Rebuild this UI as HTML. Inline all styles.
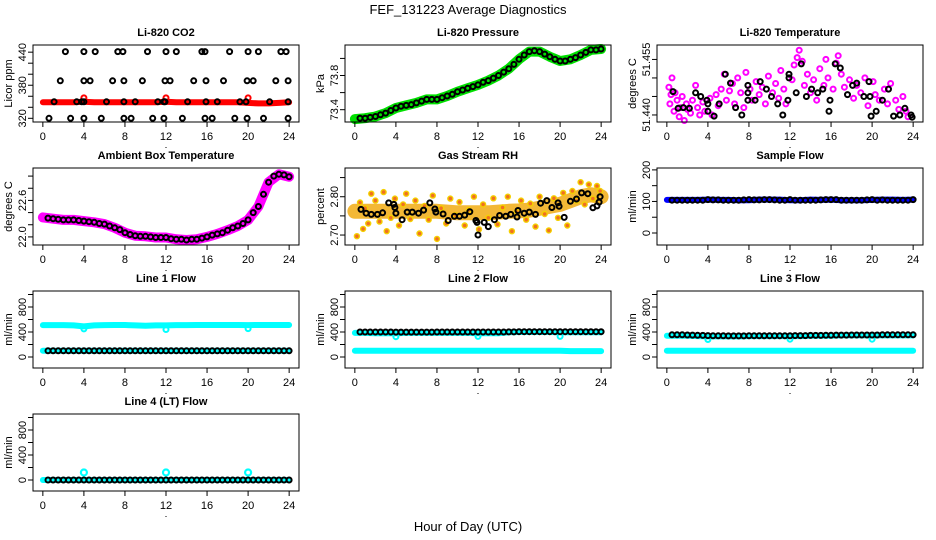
<!DOCTYPE html>
<html><head><meta charset="utf-8"><style>
html,body{margin:0;padding:0;background:#fff;}
svg{display:block;font-family:"Liberation Sans",sans-serif;}
</style></head><body>
<svg id="chart" width="936" height="540" viewBox="0 0 936 540" xmlns="http://www.w3.org/2000/svg">
<text x="468" y="14" font-size="13" text-anchor="middle">FEF_131223  Average Diagnostics</text>
<text x="468" y="531" font-size="13" text-anchor="middle">Hour of Day (UTC)</text>
</svg>
<script>
// ---- data ----
const xTicks = [0,4,8,12,16,20,24];
const blackH = [0.5,1,1.5,2,2.5,3,3.5,4,4.5,5,5.5,6,6.5,7,7.5,8,8.5,9,9.5,10,10.5,11,11.5,12,12.5,13,13.5,14,14.5,15,15.5,16,16.5,17,17.5,18,18.5,19,19.5,20,20.5,21,21.5,22,22.5,23,23.5,24];
const hourly = [0,1,2,3,4,5,6,7,8,9,10,11,12,13,14,15,16,17,18,19,20,21,22,23,24];
const dipH = [4,12,20];

// CO2
const co2RedBand = [349,349,349,349,350,349,349,349,349,349,349,349,350,349,349,349,349,349,349,349,348,347,347,348,349];
const co2RedDipV = [357,357,357];
const co2B440H = [2.2,4,5.1,7.3,7.8,10.2,12,13,15.5,15.8,18.2,20,21,23.2,23.7];
const co2B380H = [1.7,4,4.6,6.8,7.9,9.7,11.9,12.4,14.7,15.9,17.6,19.9,20.5,22.7,23.9];
const co2B350H = [1.1,3.3,3.8,4,6.2,7.9,9,11.2,11.8,11.9,14.1,15.9,17,19.2,19.8,22.1,23.9];
const co2B320H = [0.6,2.7,4,5.7,7.9,8.6,10.7,11.8,13.6,15.8,16.5,18.7,19.9,21.5,23.9];
const co2Levels = [441,388,350,320];

// Pressure
const presBand = [73.29,73.30,73.32,73.36,73.42,73.45,73.48,73.52,73.52,73.56,73.61,73.65,73.69,73.74,73.80,73.88,73.99,74.08,74.08,74.02,73.97,73.99,74.04,74.10,74.11];
const presBlack = [73.30,73.30,73.31,73.32,73.34,73.36,73.39,73.42,73.44,73.45,73.46,73.48,73.50,73.52,73.52,73.52,73.54,73.56,73.58,73.61,73.63,73.65,73.67,73.69,73.72,73.74,73.77,73.80,73.84,73.88,73.93,73.99,74.04,74.08,74.09,74.08,74.05,74.02,73.99,73.97,73.97,73.99,74.01,74.04,74.07,74.10,74.10,74.11];

// Li-820 temperature
const tempMH = [0.2,0.3,0.4,0.5,0.7,0.8,1.0,1.2,1.3,1.5,1.7,1.9,2.0,2.3,2.5,2.8,3.0,3.2,3.5,3.7,4.2,4.4,4.8,5.0,5.3,5.6,5.8,6.1,6.4,6.6,6.9,7.2,7.5,7.7,8.1,8.3,8.7,9.0,9.3,9.6,9.9,10.3,10.6,10.9,11.1,11.4,11.6,12.2,12.4,12.7,12.9,13.2,13.4,13.7,14.0,14.3,14.6,14.9,15.3,15.5,15.7,16.2,16.5,16.7,17.0,17.3,17.8,18.2,18.5,18.9,19.3,19.6,20.1,20.3,20.7,21.2,21.5,21.8,22.3,22.6,23.0,23.3,23.5];
const tempMV = [51.4475,51.4430,51.4455,51.4500,51.4410,51.4460,51.4440,51.4395,51.4420,51.4450,51.4385,51.4430,51.4415,51.4405,51.4440,51.4480,51.4420,51.4400,51.4435,51.4410,51.4445,51.4400,51.4455,51.4425,51.4470,51.4510,51.4440,51.4465,51.4485,51.4430,51.4500,51.4460,51.4420,51.4515,51.4470,51.4440,51.4490,51.4455,51.4475,51.4430,51.4505,51.4460,51.4485,51.4445,51.4520,51.4470,51.4430,51.4495,51.4535,51.4555,51.4575,51.4545,51.4480,51.4510,51.4460,51.4495,51.4440,51.4525,51.4480,51.4550,51.4500,51.4470,51.4540,51.4560,51.4510,51.4475,51.4495,51.4445,51.4480,51.4460,51.4500,51.4425,51.4490,51.4455,51.4440,51.4470,51.4430,51.4485,51.4440,51.4415,51.4450,51.4410,51.4395];
const tempBH = [0.6,1.1,1.6,2.2,2.8,3.3,3.9,4,4,4.6,5.1,5.7,6.2,6.7,7.3,7.9,7.9,7.9,8.6,9.1,9.7,10.2,10.8,11.3,11.8,11.9,11.9,12.6,13.1,13.6,14.1,14.7,15.2,15.8,15.9,16.4,16.9,17.6,18.1,18.5,19.2,19.7,19.8,19.9,20.4,21,21.6,22.1,22.7,23.2,23.8,23.9];
const tempBV = [51.4463,51.4418,51.4420,51.4418,51.4460,51.4450,51.4440,51.4430,51.4410,51.4397,51.4430,51.4510,51.4486,51.4420,51.4400,51.4480,51.4460,51.4440,51.4440,51.4490,51.4470,51.4450,51.4430,51.4400,51.4440,51.4500,51.4510,51.4460,51.4538,51.4450,51.4470,51.4460,51.4470,51.4410,51.4440,51.4538,51.4527,51.4455,51.4480,51.4486,51.4450,51.4490,51.4450,51.4397,51.4410,51.4440,51.4470,51.4397,51.4400,51.4418,51.4400,51.4394];

// Ambient box temperature
const ambBand = [22.32,22.30,22.28,22.28,22.26,22.24,22.21,22.15,22.07,22.02,22.01,21.99,21.99,21.96,21.95,21.96,22.00,22.05,22.11,22.18,22.28,22.50,22.90,23.03,22.99];
const ambBlack = [22.31,22.30,22.29,22.28,22.28,22.28,22.27,22.26,22.25,22.24,22.22,22.21,22.18,22.15,22.12,22.07,22.04,22.02,22.01,22.01,22.00,21.99,21.99,21.99,21.97,21.96,21.96,21.95,21.96,21.96,21.98,22.00,22.03,22.05,22.07,22.11,22.15,22.18,22.22,22.28,22.40,22.50,22.70,22.90,23.00,23.03,23.02,22.99];

// Gas stream RH
const rhBand = [2.762,2.762,2.762,2.762,2.762,2.762,2.762,2.762,2.762,2.760,2.758,2.758,2.758,2.758,2.760,2.762,2.763,2.765,2.770,2.775,2.780,2.790,2.800,2.805,2.800];
const rhYH = [0.2,0.5,0.8,1.0,1.3,1.6,2.0,2.4,2.8,3.1,3.5,3.9,4.3,4.7,5.0,5.4,5.9,6.3,6.8,7.2,7.6,8.0,8.4,8.9,9.3,9.8,10.2,10.7,11.1,11.6,12.1,12.5,13.0,13.5,13.9,14.4,14.9,15.3,15.8,16.2,16.7,17.1,17.6,18.0,18.5,18.9,19.4,19.8,20.3,20.7,21.2,21.6,22.0,22.4,22.8,23.2,23.6,23.9];
const rhYV = [2.697,2.785,2.716,2.770,2.730,2.808,2.790,2.735,2.812,2.710,2.745,2.795,2.725,2.780,2.808,2.742,2.790,2.704,2.776,2.740,2.803,2.690,2.770,2.730,2.795,2.752,2.786,2.725,2.765,2.800,2.715,2.780,2.745,2.796,2.728,2.772,2.800,2.710,2.760,2.790,2.740,2.782,2.722,2.800,2.755,2.712,2.796,2.745,2.810,2.725,2.815,2.790,2.838,2.780,2.832,2.795,2.828,2.815];
const rhBH = [0.6,1.1,1.6,2.2,2.7,3.3,3.8,3.9,4,4.6,5.1,5.6,6.2,6.7,7.3,7.8,7.9,8.6,9.1,9.7,10.2,10.7,11.2,11.8,11.9,12,12.6,13,13.6,14.1,14.7,15.2,15.8,15.9,16.5,17,17.6,18.1,18.7,19.2,19.8,19.9,20.4,21,21.6,22.1,22.7,23.2,23.6,23.8,23.9];
const rhBV = [2.767,2.757,2.754,2.754,2.758,2.784,2.780,2.772,2.757,2.740,2.760,2.760,2.757,2.765,2.784,2.768,2.760,2.755,2.738,2.749,2.749,2.752,2.761,2.738,2.733,2.700,2.733,2.722,2.740,2.751,2.749,2.754,2.747,2.764,2.757,2.760,2.754,2.783,2.790,2.772,2.784,2.775,2.746,2.788,2.794,2.810,2.808,2.771,2.776,2.786,2.800];

// Sample flow
const sampBand = [105,105,105,105,106,105,105,104,104,106,106,106,104,104,106,105,106,104,104,104,105,106,106,105,106];
const sampBlack = [104,104,104,104,104,104,104,106,105,105,104,104,104,104,105,106,105,105,106,106,105,104,104,106,104,104,104,104,104,105,106,106,106,104,104,104,104,104,105,106,104,105,104,104,104,104,104,106];

// Line flows
const l1Upper = [510,510,510,505,490,505,510,512,512,505,500,505,505,510,510,512,512,512,512,512,510,512,512,512,512];
const l1UpperDip = [450,440,455];
const l1Lower = [100,100,100,100,100,100,100,100,100,100,100,100,100,100,100,100,100,100,100,100,100,100,100,100,100];
const l1Black = [100,100,100,100,100,100,100,100,100,100,100,100,100,100,100,100,100,100,100,100,100,100,100,100,100,100,100,100,100,100,100,100,100,100,100,100,100,100,100,100,100,100,100,100,100,100,100,100];
const l2Upper = [385,385,380,380,380,385,385,385,385,385,385,385,380,380,380,395,400,400,400,400,395,395,395,395,395];
const l2UpperDip = [325,330,330];
const l2Lower = [100,100,100,100,100,100,100,100,100,100,100,100,100,100,100,100,100,100,100,100,100,95,95,95,95];
const l2Black = [400,400,400,400,400,400,400,398,398,398,398,398,398,398,398,400,400,400,400,400,400,400,400,400,400,400,400,400,400,402,402,405,405,405,405,405,405,405,405,405,405,405,405,405,405,405,405,405];
const l3Upper = [340,340,340,335,330,330,330,330,335,335,335,335,335,335,340,340,340,345,345,345,345,345,345,345,345];
const l3UpperDip = [280,285,285];
const l3Lower = [100,100,100,100,100,100,100,100,100,100,100,100,100,100,100,100,100,100,100,100,100,100,100,100,100];
const l3Black = [355,355,355,352,350,348,345,342,340,340,340,338,338,338,338,340,340,340,340,340,340,340,340,340,342,342,342,345,345,345,348,348,350,350,350,352,352,352,352,352,352,355,355,355,355,355,355,355];
const l4Band = [0,0,0,0,0,0,0,0,0,0,0,0,0,0,0,0,0,0,0,0,0,0,0,0,0];
const l4Spike = [120,120,120];
const l4Black = [0,0,0,0,0,0,0,0,0,0,0,0,0,0,0,0,0,0,0,0,0,0,0,0,0,0,0,0,0,0,0,0,0,0,0,0,0,0,0,0,0,0,0,0,0,0,0,0];

// ---- drawing ----
const NS = "http://www.w3.org/2000/svg";
const svg = document.getElementById("chart");
const rowTop = [45,168,291,414], boxH = 77;
function mk(tag, attrs, parent){
  const e = document.createElementNS(NS, tag);
  for (const k in attrs) e.setAttribute(k, attrs[k]);
  (parent||svg).appendChild(e); return e;
}
function panel(p){
  const x0 = p.col*312+33, x1 = p.col*312+299, y0 = rowTop[p.row], y1 = y0+boxH;
  const g = mk("g", {});
  
  
  const X = h => x0 + (h - (-0.96)) / (24.96 - (-0.96)) * (x1 - x0);
  const Y = v => y1 - (v - p.ymin) / (p.ymax - p.ymin) * (y1 - y0);
  const cx = (x0+x1)/2;
  const t = mk("text", {x: cx, y: y0-9, "font-size": 11, "font-weight": "bold", "text-anchor": "middle"}, g);
  t.textContent = p.title;
  
  
  const yl = mk("text", {x: p.col*312+12, y: (y0+y1)/2, "font-size": 11, "text-anchor": "middle", transform: `rotate(-90 ${p.col*312+12} ${(y0+y1)/2})`}, g);
  yl.textContent = p.ylab;
  
  
  p.series.forEach(s => {
    if (s.type === "band") {
      const pts = s.h.map((h,i) => X(h).toFixed(1)+","+Y(s.v[i]).toFixed(1)).join(" ");
      const pl = mk("polyline", {points: pts, fill: "none", stroke: s.color, "stroke-width": s.w, "stroke-linejoin": "round", "stroke-linecap": "round", opacity: s.op||1}, g);
      
      
    } else {
      s.h.forEach((h,i) => {
        const c = mk("circle", {cx: X(h).toFixed(1), cy: Y(s.v[i]).toFixed(1), r: s.r||2.5, fill: s.fill||"none", stroke: s.color, "stroke-width": s.sw||2}, g);
        
        
      });
    }
  });
  const box = mk("rect", {x: x0, y: y0, width: x1-x0, height: y1-y0, fill: "none", stroke: "#000", "stroke-width": 1}, g);
  
  
  xTicks.forEach(h => {
    mk("line", {x1: X(h), x2: X(h), y1: y1, y2: y1+5, stroke: "#000"}, g);
    const tl = mk("text", {x: X(h), y: y1+18, "font-size": 11, "text-anchor": "middle"}, g);
    tl.textContent = h;
    
    
  });
  mk("line", {x1: X(0), x2: X(24), y1: y1, y2: y1, stroke: "#000"}, g);
  const dot = mk("rect", {x: cx-0.5, y: y1+25, width: 1, height: 1, fill: "#000"}, g);
  
  
  p.yticks.forEach(v => {
    mk("line", {x1: x0-5, x2: x0, y1: Y(v), y2: Y(v), stroke: "#000"}, g);
  });
  p.ylabels.forEach((lab, i) => {
    const yy = Y(p.ylabelVals[i]), xx = p.col*312+26;
    const tl = mk("text", {x: xx, y: yy, "font-size": 11, "text-anchor": "middle", transform: `rotate(-90 ${xx} ${yy})`}, g);
    tl.textContent = lab;
    
    
  });
}
const K = "#000";
const panels = [
 {name:"panel-co2", col:0,row:0,title:"Li-820 CO2",ylab:"Licor ppm",ymin:313.3,ymax:453,yticks:[320,340,360,380,400,420,440],ylabels:["320","380","440"],ylabelVals:[320,380,440],
  series:[{type:"band",name:"co2-red-band",h:hourly,v:co2RedBand,color:"#f00",w:6},
          {type:"pts",name:"co2-red-point",h:dipH,v:co2RedDipV,color:"#f00"},
          {type:"pts",name:"co2-black-point",h:co2B440H,v:co2B440H.map(()=>co2Levels[0]),color:K},
          {type:"pts",name:"co2-black-point",h:co2B380H,v:co2B380H.map(()=>co2Levels[1]),color:K},
          {type:"pts",name:"co2-black-point",h:co2B350H,v:co2B350H.map(()=>co2Levels[2]),color:K},
          {type:"pts",name:"co2-black-point",h:co2B320H,v:co2B320H.map(()=>co2Levels[3]),color:K}]},
 {name:"panel-pressure", col:1,row:0,title:"Li-820 Pressure",ylab:"kPa",ymin:73.256,ymax:74.157,yticks:[73.4,73.6,73.8,74.0],ylabels:["73.4","73.8"],ylabelVals:[73.4,73.8],
  series:[{type:"band",name:"pressure-green-band",h:hourly,v:presBand,color:"#00e000",w:10},
          {type:"pts",name:"pressure-black-point",h:blackH,v:presBlack,color:K}]},
 {name:"panel-temperature", col:2,row:0,title:"Li-820 Temperature",ylab:"degrees C",ymin:51.4381,ymax:51.4589,yticks:[51.440,51.445,51.450,51.455],ylabels:["51.440","51.455"],ylabelVals:[51.440,51.455],
  series:[{type:"pts",name:"temperature-magenta-point",h:tempMH,v:tempMV,color:"#f0f",sw:2},
          {type:"pts",name:"temperature-black-point",h:tempBH,v:tempBV,color:K}]},
 {name:"panel-ambient", col:0,row:1,title:"Ambient Box Temperature",ylab:"degrees C",ymin:21.867,ymax:23.133,yticks:[22.0,22.2,22.4,22.6,22.8,23.0],ylabels:["22.0","22.6"],ylabelVals:[22.0,22.6],
  series:[{type:"band",name:"ambient-magenta-band",h:hourly,v:ambBand,color:"#f0f",w:10},
          {type:"pts",name:"ambient-black-point",h:blackH,v:ambBlack,color:K}]},
 {name:"panel-rh", col:1,row:1,title:"Gas Stream RH",ylab:"percent",ymin:2.674,ymax:2.875,yticks:[2.70,2.75,2.80,2.85],ylabels:["2.70","2.80"],ylabelVals:[2.70,2.80],
  series:[{type:"band",name:"rh-orange-band",h:hourly,v:rhBand,color:"#f2b020",w:15,op:0.9},
          {type:"pts",name:"rh-yellow-point",h:rhYH,v:rhYV,color:"#f4d000",fill:"#f07020",sw:1.4},
          {type:"pts",name:"rh-black-point",h:rhBH,v:rhBV,color:K}]},
 {name:"panel-sample-flow", col:2,row:1,title:"Sample Flow",ylab:"ml/min",ymin:-38,ymax:206,yticks:[0,50,100,150,200],ylabels:["0","100","200"],ylabelVals:[0,100,200],
  series:[{type:"band",name:"sample-blue-band",h:hourly,v:sampBand,color:"#00f",w:6},
          {type:"pts",name:"sample-black-point",h:blackH,v:sampBlack,color:K}]},
 {name:"panel-line1", col:0,row:2,title:"Line 1 Flow",ylab:"ml/min",ymin:-176,ymax:1056,yticks:[0,200,400,600,800,1000],ylabels:["0","400","800"],ylabelVals:[0,400,800],
  series:[{type:"band",name:"line1-cyan-upper",h:hourly,v:l1Upper,color:"#0ff",w:6},
          {type:"pts",name:"line1-cyan-dip",h:dipH,v:l1UpperDip,color:"#0ff"},
          {type:"band",name:"line1-cyan-lower",h:hourly,v:l1Lower,color:"#0ff",w:6},
          {type:"pts",name:"line1-black-point",h:blackH,v:l1Black,color:K}]},
 {name:"panel-line2", col:1,row:2,title:"Line 2 Flow",ylab:"ml/min",ymin:-176,ymax:1056,yticks:[0,200,400,600,800,1000],ylabels:["0","400","800"],ylabelVals:[0,400,800],
  series:[{type:"band",name:"line2-cyan-upper",h:hourly,v:l2Upper,color:"#0ff",w:6},
          {type:"pts",name:"line2-cyan-dip",h:dipH,v:l2UpperDip,color:"#0ff"},
          {type:"band",name:"line2-cyan-lower",h:hourly,v:l2Lower,color:"#0ff",w:6},
          {type:"pts",name:"line2-black-point",h:blackH,v:l2Black,color:K}]},
 {name:"panel-line3", col:2,row:2,title:"Line 3 Flow",ylab:"ml/min",ymin:-176,ymax:1056,yticks:[0,200,400,600,800,1000],ylabels:["0","400","800"],ylabelVals:[0,400,800],
  series:[{type:"band",name:"line3-cyan-upper",h:hourly,v:l3Upper,color:"#0ff",w:6},
          {type:"pts",name:"line3-cyan-dip",h:dipH,v:l3UpperDip,color:"#0ff"},
          {type:"band",name:"line3-cyan-lower",h:hourly,v:l3Lower,color:"#0ff",w:6},
          {type:"pts",name:"line3-black-point",h:blackH,v:l3Black,color:K}]},
 {name:"panel-line4", col:0,row:3,title:"Line 4 (LT) Flow",ylab:"ml/min",ymin:-176,ymax:1056,yticks:[0,200,400,600,800,1000],ylabels:["0","400","800"],ylabelVals:[0,400,800],
  series:[{type:"band",name:"line4-cyan-band",h:hourly,v:l4Band,color:"#0ff",w:6},
          {type:"pts",name:"line4-cyan-spike",h:dipH,v:l4Spike,color:"#0ff",sw:2.2,r:3},
          {type:"pts",name:"line4-black-point",h:blackH,v:l4Black,color:K}]}
];
panels.forEach(panel);
</script>
</body></html>
